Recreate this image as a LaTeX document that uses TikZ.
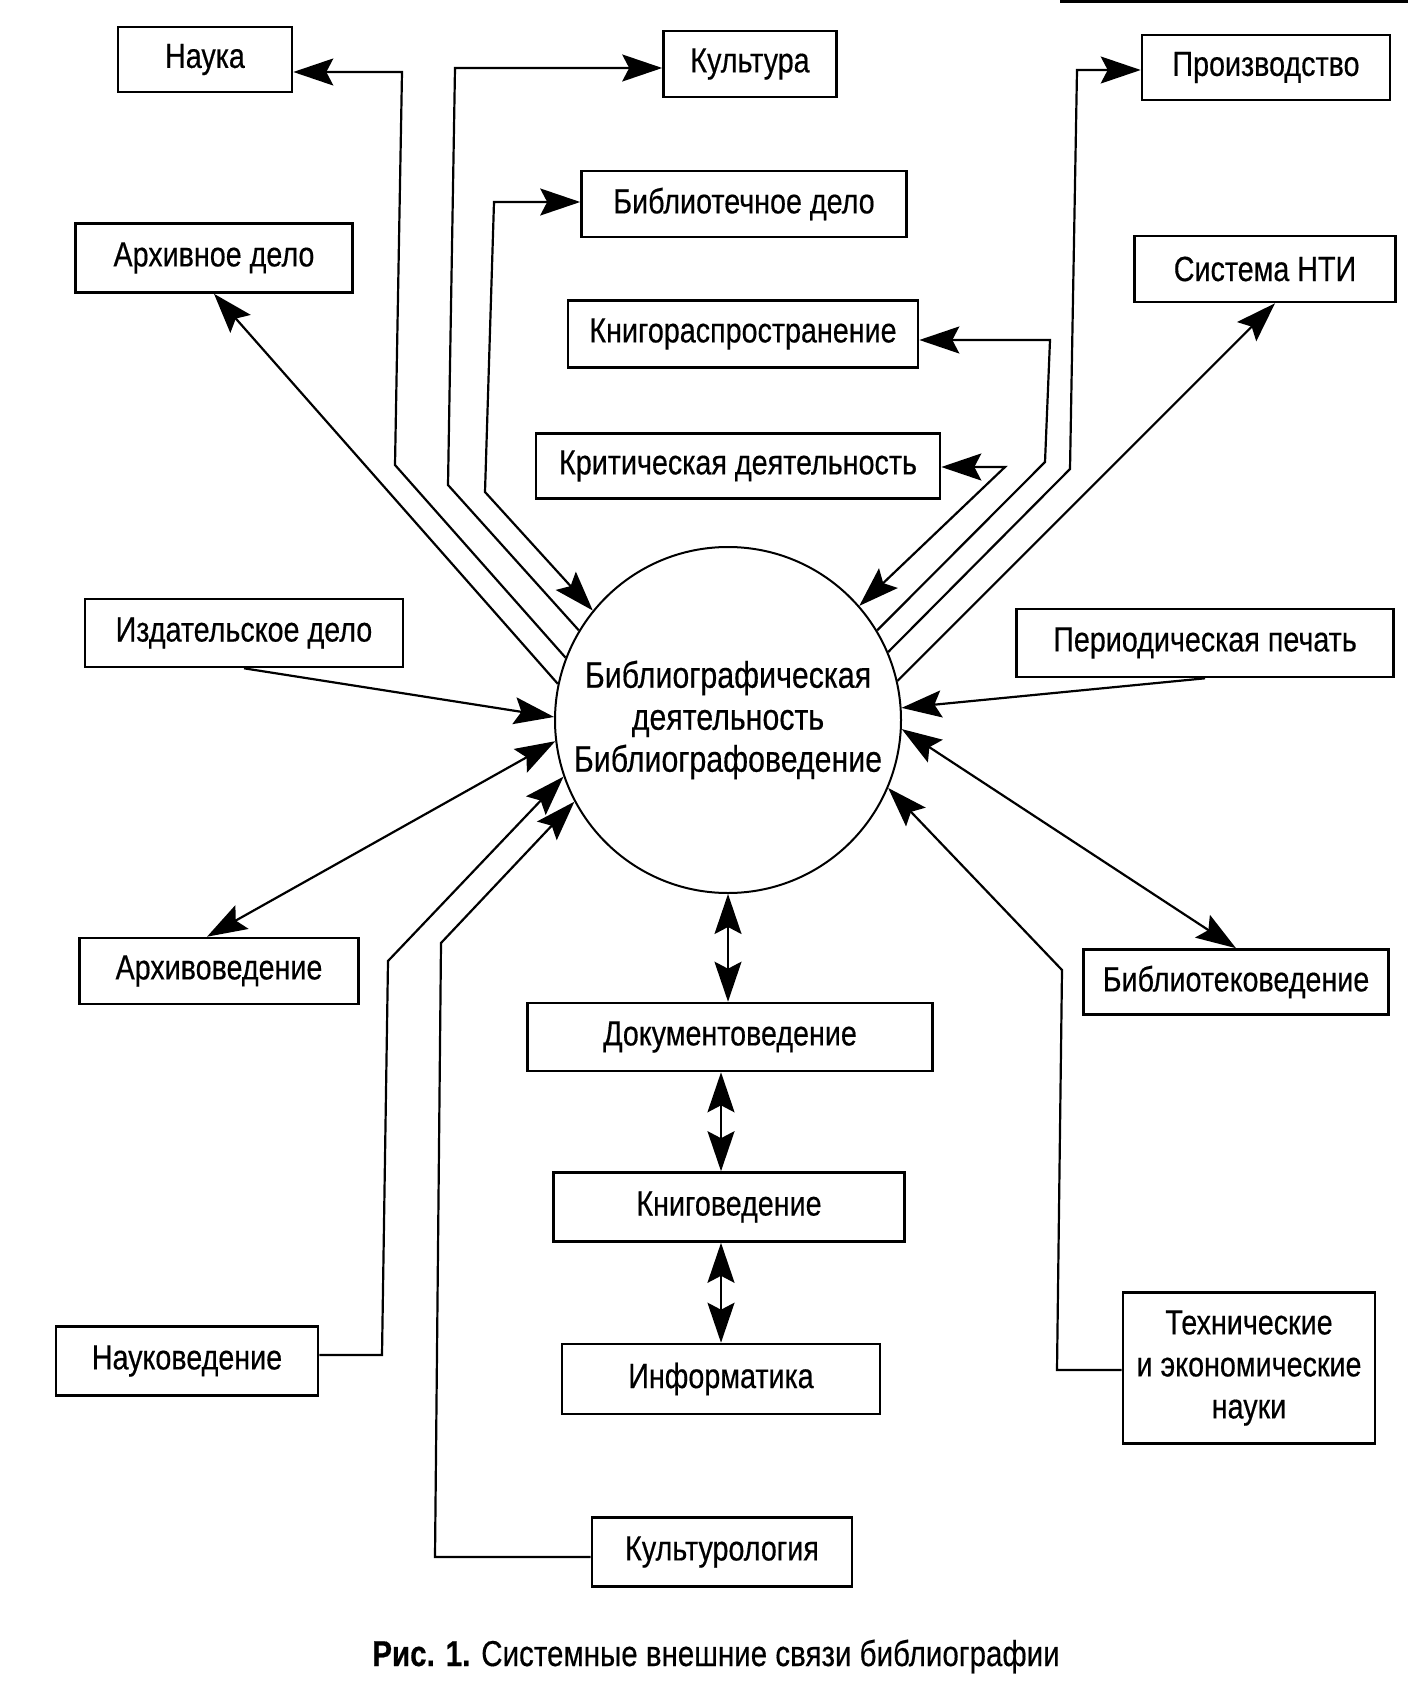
\documentclass[tikz,border=0pt]{standalone}
\usepackage{fontspec}
\setmainfont{Liberation Sans}[FakeStretch=0.82,FakeBold=0.4]
\usetikzlibrary{arrows.meta}

\begin{document}
\begin{tikzpicture}[x=0.5pt,y=-0.5pt,line width=1.1pt,
    >={Stealth[length=20pt,width=13.5pt,inset=3.5pt]},
    box/.style={draw,line width=1.3pt,inner sep=0pt,align=center,
      font=\fontsize{17.5}{21}\selectfont},
    hub/.style={draw,circle,line width=1pt,inner sep=0pt,align=center,
      minimum size=173pt,font=\fontsize{18.5}{21}\selectfont}]
  \useasboundingbox (0,0) rectangle (1422,1706);

  % centre
  \node[hub] (bib) at (728,720) {Библиографическая\\деятельность\\Библиографоведение};

  % upper boxes
  \node[box,minimum width=87pt,minimum height=32.5pt] (nauka) at (205,59.5) {Наука};
  \node[box,minimum width=86.5pt,minimum height=33pt] (kult) at (750,64) {Культура};
  \node[box,minimum width=124pt,minimum height=32.5pt] (proizv) at (1266,67.5) {Производство};
  \node[box,minimum width=162.5pt,minimum height=33pt] (bibdelo) at (744,204) {Библиотечное дело};
  \node[box,minimum width=138.5pt,minimum height=34.5pt] (arhdelo) at (214,258) {Архивное дело};
  \node[box,minimum width=130.5pt,minimum height=33pt] (nti) at (1265,269) {Система НТИ};
  \node[box,minimum width=175pt,minimum height=33.5pt] (knigorasp) at (743,334) {Книгораспространение};
  \node[box,minimum width=202pt,minimum height=32.5pt] (krit) at (738,466) {Критическая деятельность};

  % side boxes
  \node[box,minimum width=159pt,minimum height=34pt] (izd) at (244,633) {Издательское дело};
  \node[box,minimum width=188.5pt,minimum height=34pt] (period) at (1205,643) {Периодическая печать};
  \node[box,minimum width=139.5pt,minimum height=33pt] (arhved) at (219,971) {Архивоведение};
  \node[box,minimum width=152.5pt,minimum height=32.5pt] (bibved) at (1236,982) {Библиотековедение};

  % lower boxes
  \node[box,minimum width=202.5pt,minimum height=34pt] (doc) at (730,1037) {Документоведение};
  \node[box,minimum width=175.5pt,minimum height=34.5pt] (knigoved) at (729,1207) {Книговедение};
  \node[box,minimum width=159pt,minimum height=35pt] (inform) at (721,1379) {Информатика};
  \node[box,minimum width=131pt,minimum height=34.5pt] (naukoved) at (187,1361) {Науковедение};
  \node[box,minimum width=126pt,minimum height=75.5pt] (tech) at (1249,1368) {Технические\\и экономические\\науки};
  \node[box,minimum width=130pt,minimum height=34.5pt] (kulturol) at (722,1552) {Культурология};

  \node[anchor=base,font=\fontsize{18}{21}\selectfont] (cap) at (716,1666)
    {\textbf{Рис. 1.} Системные внешние связи библиографии};

  % bent connectors, upper left
  \coordinate (c1) at (395,465);  \coordinate (c1t) at (402,72);
  \draw[->] (bib.159) -- (c1) -- (c1t) -- (nauka.east |- c1t);
  \coordinate (c2) at (448,485);  \coordinate (c2t) at (455,68);
  \draw[->] (bib.149) -- (c2) -- (c2t) -- (kult.west |- c2t);
  \coordinate (c3) at (485,492);  \coordinate (c3t) at (494,202);
  \draw[<->] (bib.141) -- (c3) -- (c3t) -- (bibdelo.west |- c3t);

  % bent connectors, upper right
  \coordinate (c4) at (1045,462); \coordinate (c4t) at (1050,340);
  \draw[->] (bib.31) -- (c4) -- (c4t) -- (knigorasp.east |- c4t);
  \coordinate (c5) at (1005,467);
  \draw[<->] (bib.41) -- (c5) -- (krit.east |- c5);
  \coordinate (c6) at (1070,469); \coordinate (c6t) at (1077,70);
  \draw[->] (bib.23) -- (c6) -- (c6t) -- (proizv.west |- c6t);

  % straight ones
  \path[->]
    (bib.168) edge (arhdelo.south)
    (bib.13) edge ([xshift=5pt]nti.south)
    (izd.south) edge (bib.179)
    (period.south) edge (bib.4);
  \path[<->]
    (bib.187) edge ([xshift=-6pt]arhved.north)
    (bib.-3) edge (bibved.north)
    (bib.south) edge (bib.south |- doc.north)
    (doc.south -| inform.north) edge (knigoved.north -| inform.north)
    (knigoved.south -| inform.north) edge (inform.north);

  % bent connectors, below
  \coordinate (c7) at (388,961);  \coordinate (c7b) at (382,1355);
  \draw[->] (naukoved.east |- c7b) -- (c7b) -- (c7) -- (bib.199);
  \coordinate (c8) at (441,943);  \coordinate (c8b) at (435,1557);
  \draw[->] (kulturol.west |- c8b) -- (c8b) -- (c8) -- (bib.208);
  \coordinate (c9) at (1062,970); \coordinate (c9b) at (1057,1370);
  \draw[->] (tech.west |- c9b) -- (c9b) -- (c9) -- (bib.-23);

  \draw[line width=1.5pt] (1060,2) -- (1408,2);
\end{tikzpicture}
\end{document}
